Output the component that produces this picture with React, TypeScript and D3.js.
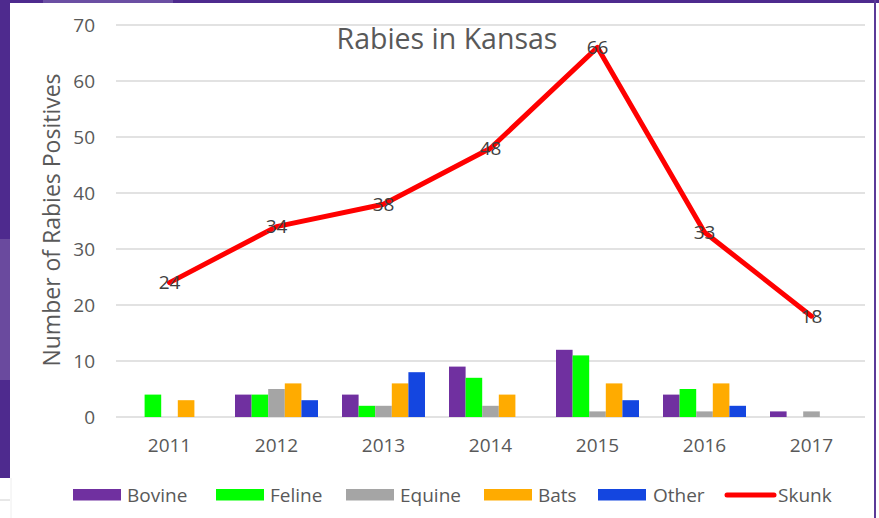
import React from "react";
import * as d3 from "d3";

// chart values
const years = ["2011", "2012", "2013", "2014", "2015", "2016", "2017"];
const seriesNames = ["Bovine", "Feline", "Equine", "Bats", "Other"];
const bovine = [0, 4, 4, 9, 12, 4, 1];
const feline = [4, 4, 2, 7, 11, 5, 0];
const equine = [0, 5, 2, 2, 1, 1, 1];
const bats = [3, 6, 6, 4, 6, 6, 0];
const other = [0, 3, 8, 0, 3, 2, 0];
const skunk = [24, 34, 38, 48, 66, 33, 18];
const yTicks = [0, 10, 20, 30, 40, 50, 60, 70];

const colors = ["#7030A0", "#00FF00", "#A5A5A5", "#FFAB00", "#1446E0"];
const skunkColor = "#FF0000";
const textColor = "#595959";
const font = "'Open Sans', sans-serif";

// legend swatch / text x positions
const legendItems = [
  { name: "Bovine", sx: 73, tx: 127 },
  { name: "Feline", sx: 216, tx: 270 },
  { name: "Equine", sx: 346, tx: 400 },
  { name: "Bats", sx: 484, tx: 538 },
  { name: "Other", sx: 598, tx: 653 },
  { name: "Skunk", sx: 724, tx: 778 },
];

const App = () => {
  const W = 879;
  const H = 518;
  const plot = { left: 116, right: 865, top: 25, bottom: 417 };

  const values = [bovine, feline, equine, bats, other];

  const x = d3.scaleBand().domain(years).range([plot.left, plot.right]);
  const groupWidth = 83;
  const xs = d3
    .scaleBand()
    .domain(seriesNames)
    .range([0, groupWidth]);
  const y = d3.scaleLinear().domain([0, 70]).range([plot.bottom, plot.top]);

  const line = d3
    .line<number>()
    .x((_, i) => (x(years[i]) as number) + x.bandwidth() / 2)
    .y((d) => y(d));

  return (
    <div style={{ position: "fixed", left: 0, top: 0 }}>
      <svg width={W} height={H} style={{ display: "block" }}>
        <rect x={0} y={0} width={W} height={H} fill="#FFFFFF" />
        {/* frame of the slide behind the chart */}
        <rect x={0} y={0} width={W} height={3} fill="#4E2A8E" />
        <rect x={43} y={0} width={130} height={3} fill="#6B4FA3" />
        <rect x={0} y={0} width={10} height={478} fill="#4E2A8E" />
        <rect x={0} y={239} width={10} height={141} fill="#6A4A9E" />
        <line x1={0} x2={10} y1={500} y2={500} stroke="#D0D0D0" />
        <line x1={11} x2={11} y1={478} y2={518} stroke="#EEEEEE" />
        <rect x={874} y={0} width={2} height={H} fill="#5B3A98" />

        {/* grid */}
        {yTicks.map((t) => (
          <g key={t}>
            <line
              x1={plot.left}
              x2={plot.right}
              y1={y(t)}
              y2={y(t)}
              stroke="#D9D9D9"
              strokeWidth={1.5}
            />
            <text
              x={95}
              y={y(t)}
              dy="0.35em"
              textAnchor="end"
              fontFamily={font}
              fontSize={19}
              fill={textColor}
            >
              {t}
            </text>
          </g>
        ))}

        {/* bars */}
        {values.map((vals, si) =>
          vals.map((v, i) =>
            v > 0 ? (
              <rect
                key={si + "-" + i}
                x={
                  (x(years[i]) as number) +
                  (x.bandwidth() - groupWidth) / 2 +
                  (xs(seriesNames[si]) as number)
                }
                y={y(v)}
                width={xs.bandwidth()}
                height={y(0) - y(v)}
                fill={colors[si]}
              />
            ) : null
          )
        )}

        {/* skunk line */}
        <path
          d={line(skunk) || ""}
          fill="none"
          stroke={skunkColor}
          strokeWidth={5}
          strokeLinejoin="round"
          strokeLinecap="round"
        />
        {skunk.map((v, i) => (
          <text
            key={i}
            x={(x(years[i]) as number) + x.bandwidth() / 2}
            y={y(v)}
            dy="0.36em"
            textAnchor="middle"
            fontFamily={font}
            fontSize={19}
            fill="#404040"
          >
            {v}
          </text>
        ))}

        {/* x labels */}
        {years.map((yr) => (
          <text
            key={yr}
            x={(x(yr) as number) + x.bandwidth() / 2}
            y={452}
            textAnchor="middle"
            fontFamily={font}
            fontSize={19}
            fill={textColor}
          >
            {yr}
          </text>
        ))}

        {/* title */}
        <text
          x={447}
          y={49}
          textAnchor="middle"
          fontFamily={font}
          fontSize={28.5}
          fill={textColor}
        >
          Rabies in Kansas
        </text>

        {/* y axis title */}
        <text
          transform={`translate(60,220) rotate(-90)`}
          textAnchor="middle"
          fontFamily={font}
          fontSize={23}
          fill={textColor}
        >
          Number of Rabies Positives
        </text>

        {/* legend */}
        {legendItems.map((it, i) => (
          <g key={it.name}>
            {i < 5 ? (
              <rect x={it.sx} y={489} width={48} height={11.5} fill={colors[i]} />
            ) : (
              <line
                x1={it.sx + 3}
                x2={it.sx + 50}
                y1={495}
                y2={495}
                stroke={skunkColor}
                strokeWidth={5}
                strokeLinecap="round"
              />
            )}
            <text
              x={it.tx}
              y={495}
              dy="0.36em"
              fontFamily={font}
              fontSize={19}
              fill={textColor}
            >
              {it.name}
            </text>
          </g>
        ))}
      </svg>
    </div>
  );
};

export default App;
